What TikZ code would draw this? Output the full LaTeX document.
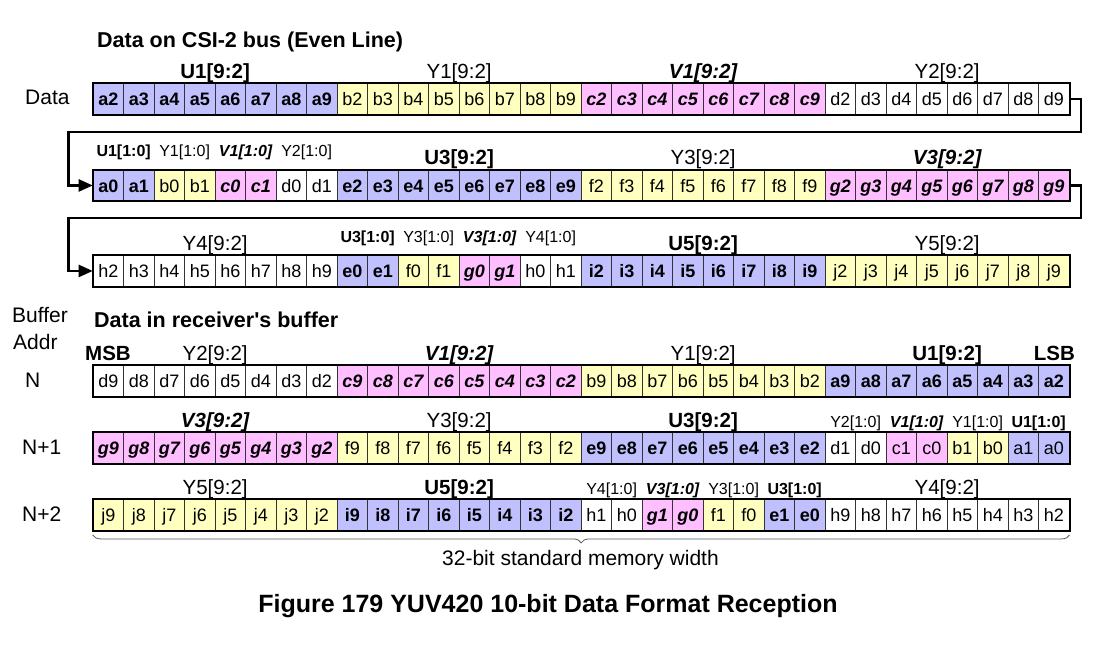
\documentclass[tikz,border=0pt]{standalone}
\usepackage{fontspec}
\setmainfont{Liberation Sans}
\usetikzlibrary{calc,arrows.meta,decorations.pathreplacing}
\definecolor{colU}{RGB}{192,192,255}
\definecolor{colY}{RGB}{255,255,192}
\definecolor{colV}{RGB}{255,190,255}
\newcounter{cellidx}
\newcommand\fsz[1]{\fontsize{#1}{#1}\selectfont}
\tikzset{
  cell/.style={draw=black!80, line width=0.9pt, minimum width=30.5pt, minimum height=31pt,
    inner sep=0pt, anchor=north west, text height=13.5pt, text depth=0pt},
  cu/.style={fill=colU}, cy/.style={fill=colY}, cv/.style={fill=colV}, cw/.style={fill=white},
  cb/.style={font=\fsz{18}\bfseries}, cr/.style={font=\fsz{18}}, ci/.style={font=\fsz{18}\bfseries\itshape},
  lb/.style={font=\fsz{20.5}\bfseries, anchor=base, inner sep=0pt},
  lr/.style={font=\fsz{20.5}, anchor=base, inner sep=0pt},
  li/.style={font=\fsz{20.5}\bfseries\itshape, anchor=base, inner sep=0pt},
  sb/.style={font=\fsz{16}\bfseries, anchor=base, inner sep=0pt},
  sr/.style={font=\fsz{16}, anchor=base, inner sep=0pt},
  si/.style={font=\fsz{16}\bfseries\itshape, anchor=base, inner sep=0pt},
  rowlab/.style={font=\fsz{21}, anchor=base west, inner sep=0pt},
  heading/.style={font=\fsz{21.5}\bfseries, anchor=base west, inner sep=0pt},
  outer/.style={draw=black, line width=2pt},
  wrap/.style={line width=2.4pt, line join=miter, -{Triangle[length=14pt,width=12pt]}},
}
% #1 row name, #2 top y, #3 segments letter/colour/font/from/to
\newcommand\cellrow[3]{%
  \setcounter{cellidx}{0}%
  \foreach \myl/\myc/\myf/\mys/\mye in {#3} {
    \foreach \myd in {\mys,...,\mye} {
      \stepcounter{cellidx}
      \edef\k{\arabic{cellidx}}
      \node[cell,\myc,\myf] (#1c\k) at ({92.7+(\k-1)*30.5},-#2) {\myl\myd};
    }
  }
  \draw[outer] (#1c1.north west) rectangle (#1c32.south east);
}
% label: #1 row, #2 first cell, #3 last cell, #4 style, #5 text, #6 raise
\newcommand\glab[6]{%
  \node[#4] (#1l#2) at ($(#1c#2.north west)!0.5!(#1c#3.north east)+(0,#6)$) {#5};}
\begin{document}
\begin{tikzpicture}[x=1pt,y=1pt]
\fill[white] (0,0) rectangle (1101,-651);
\useasboundingbox (0,0) rectangle (1101,-651);

\node[heading] (t1) at (97,-47.5) {Data on CSI-2 bus (Even Line)};
\node[rowlab] (dl) at (25,-104) {Data};

\cellrow{ra}{83}{a/cu/cb/2/9, b/cy/cr/2/9, c/cv/ci/2/9, d/cw/cr/2/9}
\cellrow{rb}{169.5}{a/cu/cb/0/1, b/cy/cr/0/1, c/cv/ci/0/1, d/cw/cr/0/1, e/cu/cb/2/9, f/cy/cr/2/9, g/cv/ci/2/9}
\cellrow{rc}{255}{h/cw/cr/2/9, e/cu/cb/0/1, f/cy/cr/0/1, g/cv/ci/0/1, h/cw/cr/0/1, i/cu/cb/2/9, j/cy/cr/2/9}

\glab{ra}{1}{8}{lb}{U1[9:2]}{5}
\glab{ra}{9}{16}{lr}{Y1[9:2]}{5}
\glab{ra}{17}{24}{li}{V1[9:2]}{5}
\glab{ra}{25}{32}{lr}{Y2[9:2]}{5}

\glab{rb}{1}{2}{sb}{U1[1:0]}{13}
\glab{rb}{3}{4}{sr}{Y1[1:0]}{13}
\glab{rb}{5}{6}{si}{V1[1:0]}{13}
\glab{rb}{7}{8}{sr}{Y2[1:0]}{13}
\glab{rb}{9}{16}{lb}{U3[9:2]}{5}
\glab{rb}{17}{24}{lr}{Y3[9:2]}{5}
\glab{rb}{25}{32}{li}{V3[9:2]}{5}

\glab{rc}{1}{8}{lr}{Y4[9:2]}{5}
\glab{rc}{9}{10}{sb}{U3[1:0]}{13}
\glab{rc}{11}{12}{sr}{Y3[1:0]}{13}
\glab{rc}{13}{14}{si}{V3[1:0]}{13}
\glab{rc}{15}{16}{sr}{Y4[1:0]}{13}
\glab{rc}{17}{24}{lb}{U5[9:2]}{5}
\glab{rc}{25}{32}{lr}{Y5[9:2]}{5}

\coordinate (k1) at (1081,-131.7);
\coordinate (k2) at (68.3,-131.7);
\draw[wrap] (rac32.east) -| (k1) -- (k2) |- (rbc1.west);
\coordinate (k3) at (1081,-218);
\coordinate (k4) at (68.3,-218);
\draw[wrap] (rbc32.east) -| (k3) -- (k4) |- (rcc1.west);

% receiver buffer
\node[rowlab] (bf1) at (12,-322) {Buffer};
\node[rowlab] (bf2) at (13,-349) {Addr};
\node[heading] (t2) at (94,-327.5) {Data in receiver\textquotesingle s buffer};
\node[rowlab] (nn) at (25,-387) {N};
\node[rowlab] (n1) at (22,-454) {N+1};
\node[rowlab] (n2) at (22,-521) {N+2};

\cellrow{rn}{365}{d/cw/cr/9/2, c/cv/ci/9/2, b/cy/cr/9/2, a/cu/cb/9/2}
\cellrow{ro}{432}{g/cv/ci/9/2, f/cy/cr/9/2, e/cu/cb/9/2, d/cw/cr/1/0, c/cv/cr/1/0, b/cy/cr/1/0, a/cu/cr/1/0}
\cellrow{rp}{499}{j/cy/cr/9/2, i/cu/cb/9/2, h/cw/cr/1/0, g/cv/ci/1/0, f/cy/cr/1/0, e/cu/cb/1/0, h/cw/cr/9/2}

\node[lb, anchor=base west] (msb) at (85,-360) {MSB};
\node[lb, anchor=base east] (lsb) at (1075,-360) {LSB};
\glab{rn}{1}{8}{lr}{Y2[9:2]}{5}
\glab{rn}{9}{16}{li}{V1[9:2]}{5}
\glab{rn}{17}{24}{lr}{Y1[9:2]}{5}
\glab{rn}{25}{32}{lb}{U1[9:2]}{5}

\glab{ro}{1}{8}{li}{V3[9:2]}{5}
\glab{ro}{9}{16}{lr}{Y3[9:2]}{5}
\glab{ro}{17}{24}{lb}{U3[9:2]}{5}
\glab{ro}{25}{26}{sr}{Y2[1:0]}{5}
\glab{ro}{27}{28}{si}{V1[1:0]}{5}
\glab{ro}{29}{30}{sr}{Y1[1:0]}{5}
\glab{ro}{31}{32}{sb}{U1[1:0]}{5}

\glab{rp}{1}{8}{lr}{Y5[9:2]}{5}
\glab{rp}{9}{16}{lb}{U5[9:2]}{5}
\glab{rp}{17}{18}{sr}{Y4[1:0]}{5}
\glab{rp}{19}{20}{si}{V3[1:0]}{5}
\glab{rp}{21}{22}{sr}{Y3[1:0]}{5}
\glab{rp}{23}{24}{sb}{U3[1:0]}{5}
\glab{rp}{25}{32}{lr}{Y4[9:2]}{5}

\coordinate (b1) at ($(rpc1.south west)+(0,-4)$);
\coordinate (b2) at ($(rpc32.south east)+(0,-4)$);
\draw[decorate, decoration={brace, mirror, amplitude=8pt}, line width=0.8pt, black!65] (b1) -- (b2);
\node[lr, font=\fsz{21}] (mw) at (580.5,-565.5) {32-bit standard memory width};
\node[lb, font=\fsz{25}\bfseries] (cap) at (548,-612) {Figure 179 YUV420 10-bit Data Format Reception};
\end{tikzpicture}
\end{document}
